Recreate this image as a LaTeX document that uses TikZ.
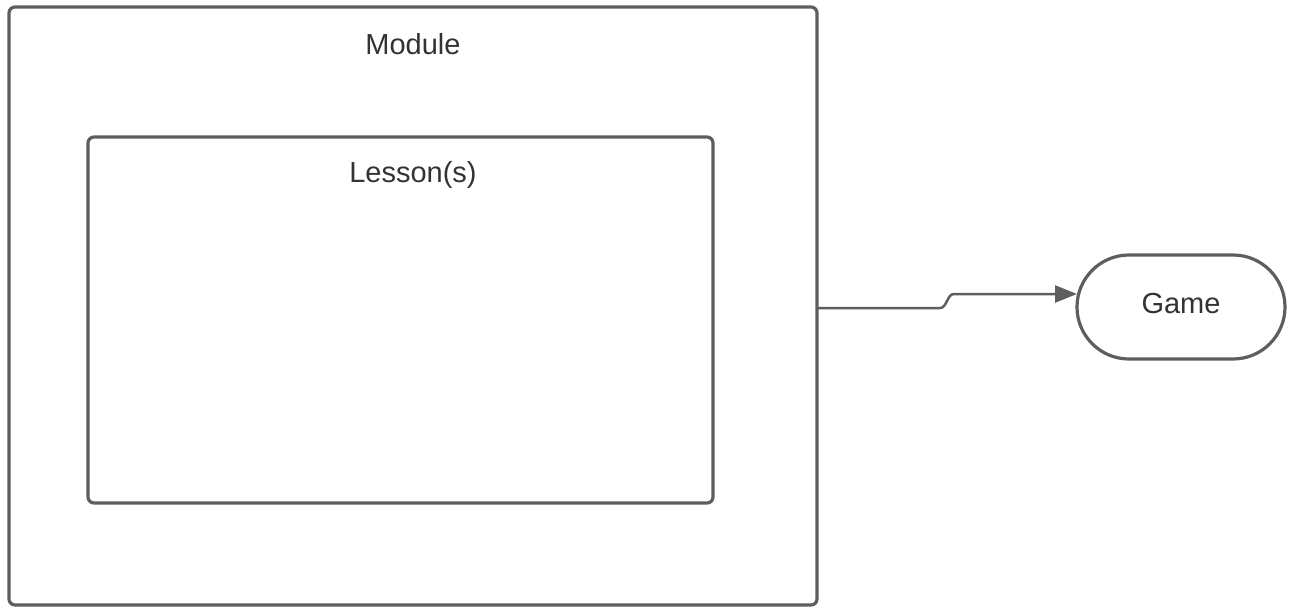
\documentclass[tikz,border=0pt]{standalone}
\usepackage{fontspec}
\setmainfont{Liberation Sans}
\usetikzlibrary{arrows.meta}
\definecolor{linegray}{HTML}{5E5E5E}
\definecolor{textgray}{HTML}{333333}
\begin{document}
\begin{tikzpicture}[x=1pt,y=-1pt,
  box/.style={draw=linegray,line width=3.2pt,rounded corners=6pt,minimum width=#1,inner sep=0pt},
  lbl/.style={text=textgray,font=\fontsize{29}{34}\selectfont,inner sep=0pt},
  conn/.style={draw=linegray,line width=2.5pt,-{Triangle[length=22pt,width=17pt]}}]
\useasboundingbox (0,0) rectangle (1293,608);
\node[box=808pt,minimum height=598pt] (outer) at (413,306) {};
\node[box=625pt,minimum height=366pt] (inner) at (400.5,320) {};
\node[lbl] (modlbl) at (413,44) {Module};
\node[lbl] (leslbl) at (413,175) {Lesson(s)};
\node[draw=linegray,line width=3.2pt,rounded corners=52pt,minimum width=208pt,minimum height=104pt,inner sep=0pt] (game) at (1181,307) {};
\node[lbl] (gamelbl) at (1181,304) {Game};
\coordinate (s) at (816,308);
\coordinate (c1) at (940,308);
\coordinate (c2) at (954,294);
\coordinate (e) at (1077,294);
\draw[conn] (s) -- (c1) .. controls (947,308) and (947,294) .. (c2) -- (e);
\end{tikzpicture}
\end{document}
